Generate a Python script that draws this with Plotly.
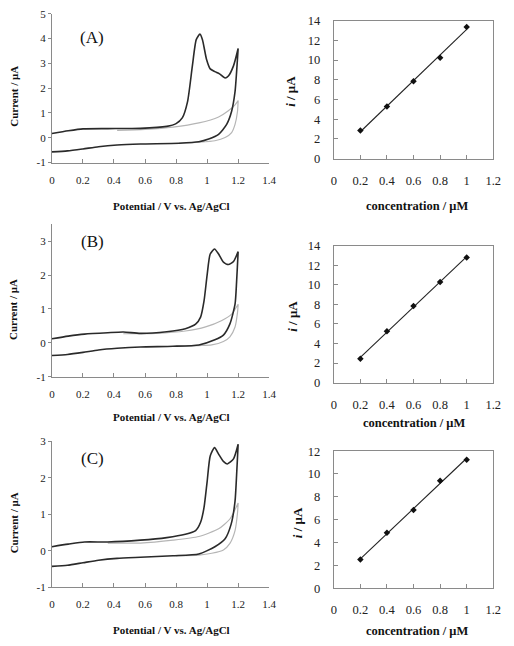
import numpy as np
import plotly.graph_objects as go

W, H = 514, 646

# ---------------- data ----------------
# Cyclic voltammograms (black: sample, gray: blank). Forward (upper) and reverse (lower) branches.
A_fwd_E = [0.0, 0.105, 0.2, 0.36, 0.57, 0.74, 0.8, 0.84, 0.874, 0.905, 0.93, 0.954, 0.97, 0.996, 1.02, 1.05, 1.08, 1.116, 1.137, 1.17, 1.2]
A_fwd_I = [0.17, 0.28, 0.36, 0.37, 0.38, 0.46, 0.57, 0.8, 1.46, 2.9, 3.96, 4.18, 3.96, 3.17, 2.78, 2.67, 2.58, 2.41, 2.49, 2.9, 3.6]
A_rev_E = [1.2, 1.19, 1.18, 1.158, 1.126, 1.074, 1.01, 0.947, 0.82, 0.57, 0.42, 0.3, 0.2, 0.1, 0.0]
A_rev_I = [3.6, 2.65, 1.86, 1.07, 0.54, 0.14, -0.05, -0.16, -0.22, -0.25, -0.29, -0.36, -0.45, -0.53, -0.57]
A_blk_fwd_E = [0.42, 0.6, 0.78, 0.947, 1.074, 1.137, 1.18, 1.2]
A_blk_fwd_I = [0.3, 0.34, 0.43, 0.6, 0.84, 1.09, 1.33, 1.5]
A_blk_rev_E = [1.2, 1.196, 1.18, 1.158, 1.116, 1.05, 0.947, 0.82]
A_blk_rev_I = [1.5, 1.07, 0.54, 0.21, 0.01, -0.12, -0.18, -0.22]

B_fwd_E = [0.0, 0.105, 0.21, 0.36, 0.46, 0.57, 0.74, 0.86, 0.926, 0.958, 0.98, 1.0, 1.02, 1.048, 1.074, 1.105, 1.137, 1.17, 1.2]
B_fwd_I = [0.12, 0.2, 0.26, 0.3, 0.32, 0.28, 0.33, 0.42, 0.55, 0.76, 1.23, 2.0, 2.62, 2.77, 2.62, 2.38, 2.31, 2.4, 2.69]
B_rev_E = [1.2, 1.19, 1.18, 1.147, 1.105, 1.05, 0.947, 0.78, 0.57, 0.42, 0.3, 0.2, 0.1, 0.0]
B_rev_I = [2.69, 1.8, 1.14, 0.56, 0.23, 0.09, -0.06, -0.1, -0.12, -0.16, -0.21, -0.28, -0.34, -0.37]
B_blk_fwd_E = [0.46, 0.67, 0.86, 0.99, 1.095, 1.158, 1.2]
B_blk_fwd_I = [0.27, 0.28, 0.35, 0.47, 0.66, 0.85, 1.14]
B_blk_rev_E = [1.2, 1.196, 1.18, 1.147, 1.105, 1.03, 0.947, 0.8]
B_blk_rev_I = [1.14, 0.9, 0.47, 0.18, 0.04, -0.06, -0.08, -0.1]

C_fwd_E = [0.0, 0.105, 0.21, 0.36, 0.57, 0.74, 0.86, 0.926, 0.958, 0.98, 1.0, 1.02, 1.048, 1.074, 1.105, 1.13, 1.17, 1.2]
C_fwd_I = [0.11, 0.18, 0.24, 0.24, 0.29, 0.36, 0.45, 0.55, 0.78, 1.18, 1.89, 2.6, 2.83, 2.65, 2.45, 2.38, 2.52, 2.92]
C_rev_E = [1.2, 1.19, 1.18, 1.155, 1.116, 1.05, 0.947, 0.78, 0.57, 0.42, 0.3, 0.2, 0.1, 0.0]
C_rev_I = [2.92, 2.07, 1.36, 0.73, 0.33, 0.11, -0.09, -0.14, -0.18, -0.21, -0.26, -0.33, -0.4, -0.43]
C_blk_fwd_E = [0.36, 0.57, 0.78, 0.947, 1.074, 1.147, 1.2]
C_blk_fwd_I = [0.21, 0.21, 0.29, 0.39, 0.6, 0.87, 1.31]
C_blk_rev_E = [1.2, 1.196, 1.18, 1.147, 1.105, 1.03, 0.947, 0.8]
C_blk_rev_I = [1.31, 1.04, 0.55, 0.2, 0.02, -0.07, -0.12, -0.14]

# Calibration plots
conc = [0.2, 0.4, 0.6, 0.8, 1.0]
A_cal = [2.85, 5.3, 7.85, 10.25, 13.35]
B_cal = [2.45, 5.25, 7.85, 10.3, 12.8]
C_cal = [2.5, 4.85, 6.85, 9.4, 11.25]

cv_xticks = [0, 0.2, 0.4, 0.6, 0.8, 1.0, 1.2, 1.4]
cv_xtext = ["0", "0.2", "0.4", "0.6", "0.8", "1", "1.2", "1.4"]
cal_xticks = [0, 0.2, 0.4, 0.6, 0.8, 1.0, 1.2]
cal_xtext = ["0", "0.2", "0.4", "0.6", "0.8", "1", "1.2"]
A_yticks = [-1, 0, 1, 2, 3, 4, 5]
BC_yticks = [-1, 0, 1, 2, 3]
cal14_ticks = [0, 2, 4, 6, 8, 10, 12, 14]
cal12_ticks = [0, 2, 4, 6, 8, 10, 12]

panel_labels = ["(A)", "(B)", "(C)"]
cv_xtitle = "Potential / V vs. Ag/AgCl"
cv_ytitle = "Current / μA"
cal_xtitle = "concentration / μM"
cal_ytitle = "<i>i</i> / μA"

# ---------------- figure ----------------
FONT = "Liberation Serif, Times New Roman, serif"
AXC = "#8a8a8a"
fig = go.Figure()

def px_x(p):
    return p / W

def px_y(p):
    return 1 - p / H

# (top px, bottom px) of each panel
left_dom = [(7, 159), (222, 378), (444, 593)]
right_dom = [(14, 155), (244, 384), (454, 594)]
left_x = (px_x(50), px_x(272))
right_x = (px_x(338), px_x(501))

cvs = [
    (A_fwd_E, A_fwd_I, A_rev_E, A_rev_I, A_blk_fwd_E, A_blk_fwd_I, A_blk_rev_E, A_blk_rev_I, [-1, 5], A_yticks),
    (B_fwd_E, B_fwd_I, B_rev_E, B_rev_I, B_blk_fwd_E, B_blk_fwd_I, B_blk_rev_E, B_blk_rev_I, [-1, 3.5], BC_yticks),
    (C_fwd_E, C_fwd_I, C_rev_E, C_rev_I, C_blk_fwd_E, C_blk_fwd_I, C_blk_rev_E, C_blk_rev_I, [-1, 3], BC_yticks),
]
cals = [(A_cal, [0, 14], cal14_ticks), (B_cal, [0, 14], cal14_ticks), (C_cal, [0, 12], cal12_ticks)]

layout_axes = {}
for k in range(3):
    li = 2 * k + 1
    ri = 2 * k + 2
    xl = "x" if li == 1 else f"x{li}"
    yl = "y" if li == 1 else f"y{li}"
    xr, yr = f"x{ri}", f"y{ri}"
    fE, fI, rE, rI, bfE, bfI, brE, brI, yrange, yt = cvs[k]
    # blank (gray) first, then sample on top
    fig.add_trace(go.Scatter(x=bfE + brE, y=bfI + brI, mode="lines", xaxis=xl, yaxis=yl,
                             line=dict(color="#b5b5b5", width=1.2, shape="spline", smoothing=0.6),
                             showlegend=False, hoverinfo="skip"))
    fig.add_trace(go.Scatter(x=fE + rE, y=fI + rI, mode="lines", xaxis=xl, yaxis=yl,
                             line=dict(color="#2a2a2a", width=1.6, shape="spline", smoothing=0.6),
                             showlegend=False, hoverinfo="skip"))
    cal, crange, cticks = cals[k]
    slope, icpt = np.polyfit(conc, cal, 1)
    fit_x = [conc[0], conc[-1]]
    fit_y = [slope * v + icpt for v in fit_x]
    fig.add_trace(go.Scatter(x=fit_x, y=fit_y, mode="lines", xaxis=xr, yaxis=yr,
                             line=dict(color="#222", width=1.1), showlegend=False, hoverinfo="skip"))
    fig.add_trace(go.Scatter(x=conc, y=cal, mode="markers", xaxis=xr, yaxis=yr,
                             marker=dict(color="#111", size=5, symbol="diamond"),
                             showlegend=False, hoverinfo="skip"))

    t, b = left_dom[k]
    kx = "xaxis" if li == 1 else f"xaxis{li}"
    ky = "yaxis" if li == 1 else f"yaxis{li}"
    layout_axes[kx] = dict(domain=list(left_x), anchor=yl, range=[0, 1.4], tickvals=cv_xticks, ticktext=cv_xtext,
                           showline=True, linecolor=AXC, linewidth=1, ticks="inside", ticklen=4, tickcolor=AXC,
                           showgrid=False, zeroline=False, ticklabelstandoff=7,
                           tickfont=dict(family=FONT, size=11, color="#222"))
    layout_axes[ky] = dict(domain=[px_y(b), px_y(t)], anchor=xl, range=yrange, tickvals=yt,
                           ticktext=[str(v) for v in yt],
                           showline=True, linecolor=AXC, linewidth=1, ticks="outside", ticklen=3, tickcolor=AXC,
                           showgrid=False, zeroline=False,
                           tickfont=dict(family=FONT, size=11, color="#222"))
    t, b = right_dom[k]
    layout_axes[f"xaxis{ri}"] = dict(domain=list(right_x), anchor=yr, range=[0, 1.2], tickvals=cal_xticks,
                                     ticktext=cal_xtext, showline=True, mirror=True, linecolor=AXC, linewidth=1,
                                     ticks="inside", ticklen=4, tickcolor=AXC, showgrid=False, zeroline=False,
                                     ticklabelstandoff=10, tickfont=dict(family=FONT, size=12.5, color="#222"))
    layout_axes[f"yaxis{ri}"] = dict(domain=[px_y(b), px_y(t)], anchor=xr, range=crange, tickvals=cticks,
                                     ticktext=[str(v) for v in cticks], showline=True, mirror=True,
                                     linecolor=AXC, linewidth=1, ticks="inside", ticklen=4, tickcolor=AXC,
                                     showgrid=False, zeroline=False, ticklabelstandoff=10,
                                     tickfont=dict(family=FONT, size=12.5, color="#222"))

ann = []
def add_text(text, xp, yp, size, bold=True, angle=0, yanchor="middle"):
    ann.append(dict(text=f"<b>{text}</b>" if bold else text, x=px_x(xp), y=px_y(yp), xref="paper", yref="paper",
                    xanchor="center", yanchor=yanchor, showarrow=False, textangle=angle,
                    font=dict(family=FONT, size=size, color="#111")))

cv_xt_y = [203, 419, 637]
cv_yt_y = [91, 309, 527]
lab_y = [31, 240, 462]
cal_xt = [(423, 203), (420, 425), (423, 638)]
cal_yt = [(293, 86), (295, 316), (301, 527)]
for k in range(3):
    add_text(cv_xtitle, 172, cv_xt_y[k], 11)
    add_text(cv_ytitle, 11, cv_yt_y[k], 11, angle=-90)
    add_text(panel_labels[k], 91, lab_y[k], 17, bold=False)
    add_text(cal_xtitle, cal_xt[k][0], cal_xt[k][1], 12.5)
    add_text(cal_ytitle, cal_yt[k][0], cal_yt[k][1], 13, angle=-90)

fig.update_layout(width=W, height=H, autosize=False, margin=dict(l=0, r=0, t=0, b=0),
                  paper_bgcolor="white", plot_bgcolor="white", annotations=ann, **layout_axes)

fig.write_html("out.html")
